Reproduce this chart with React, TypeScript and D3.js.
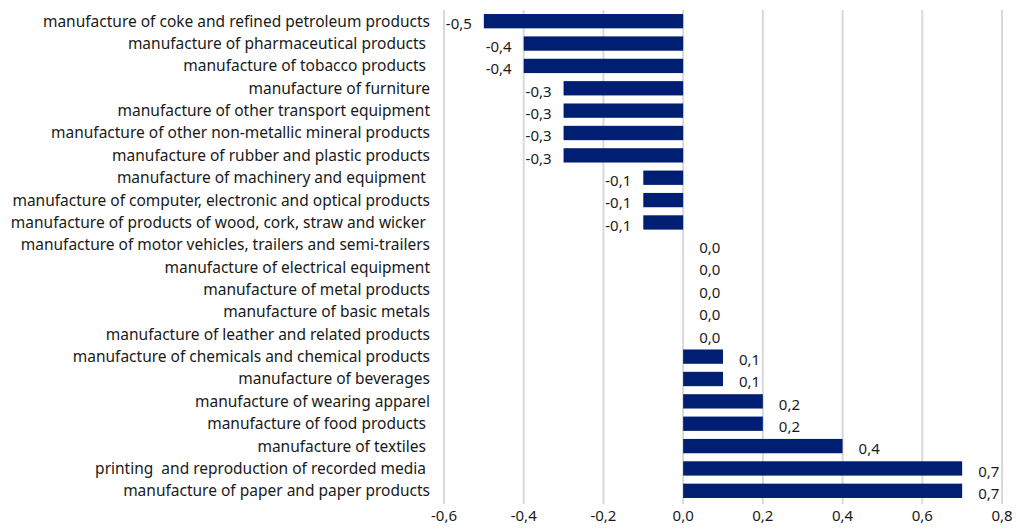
import React from "react";
import * as d3 from "d3";

const categories: string[] = [
  "manufacture of coke and refined petroleum products",
  "manufacture of pharmaceutical products ",
  "manufacture of tobacco products ",
  "manufacture of furniture",
  "manufacture of other transport equipment",
  "manufacture of other non-metallic mineral products",
  "manufacture of rubber and plastic products",
  "manufacture of machinery and equipment ",
  "manufacture of computer, electronic and optical products",
  "manufacture of products of wood, cork, straw and wicker ",
  "manufacture of motor vehicles, trailers and semi-trailers",
  "manufacture of electrical equipment",
  "manufacture of metal products",
  "manufacture of basic metals",
  "manufacture of leather and related products",
  "manufacture of chemicals and chemical products",
  "manufacture of beverages",
  "manufacture of wearing apparel",
  "manufacture of food products ",
  "manufacture of textiles ",
  "printing  and reproduction of recorded media ",
  "manufacture of paper and paper products",
];

const values: number[] = [
  -0.5, -0.4, -0.4, -0.3, -0.3, -0.3, -0.3, -0.1, -0.1, -0.1, 0.0, 0.0, 0.0, 0.0,
  0.0, 0.1, 0.1, 0.2, 0.2, 0.4, 0.7, 0.7,
];

const ticks: number[] = [-0.6, -0.4, -0.2, 0, 0.2, 0.4, 0.6, 0.8];

const W = 1016;
const H = 529;
const margin = { left: 444, right: 14, top: 10, bottom: 27 };
const FONT = "'Noto Sans', 'Open Sans', sans-serif";
const BAR = "#001f72";

const fmt = (v: number) => v.toFixed(1).replace(".", ",");

export default function App() {
  const x = d3
    .scaleLinear()
    .domain([-0.6, 0.8])
    .range([margin.left, W - margin.right]);
  const y = d3
    .scaleBand<string>()
    .domain(categories.map((c, i) => String(i)))
    .range([margin.top, H - margin.bottom])
    .paddingInner(0.36)
    .paddingOuter(0.18);

  return (
    <svg
      width={W}
      height={H}
      style={{ position: "absolute", left: 0, top: 0, background: "#fff" }}
      fontFamily={FONT}
    >
      {ticks.map((t) => (
        <line
          key={"g" + t}
          x1={x(t)}
          x2={x(t)}
          y1={margin.top}
          y2={H - margin.bottom + 2}
          stroke="#d9d9d9"
          strokeWidth={2}
        />
      ))}
      {values.map((v, i) => {
        const yy = y(String(i))!;
        const x0 = x(Math.min(0, v));
        const x1 = x(Math.max(0, v));
        return (
          <rect
            key={"b" + i}
            x={x0}
            y={yy}
            width={Math.max(0, x1 - x0)}
            height={y.bandwidth()}
            fill={BAR}
          />
        );
      })}
      {categories.map((c, i) => (
        <text
          key={"c" + i}
          x={margin.left - 14}
          y={y(String(i))! + y.bandwidth() / 2}
          dy="0.35em"
          textAnchor="end"
          fontSize={15.5}
          fill="#1a1a1a"
          style={{ whiteSpace: "pre" }}
        >
          {c}
        </text>
      ))}
      {values.map((v, i) => {
        const cy = y(String(i))! + y.bandwidth() / 2;
        const neg = v < 0;
        return (
          <text
            key={"l" + i}
            x={neg ? x(v) - 12 : x(v) + 16}
            y={cy + 3}
            dy="0.35em"
            textAnchor={neg ? "end" : "start"}
            fontSize={15}
            fill="#1a1a1a"
          >
            {fmt(v)}
          </text>
        );
      })}
      {ticks.map((t) => (
        <text
          key={"t" + t}
          x={x(t)}
          y={H - 8}
          textAnchor="middle"
          fontSize={15}
          fill="#1a1a1a"
        >
          {fmt(t)}
        </text>
      ))}
    </svg>
  );
}
